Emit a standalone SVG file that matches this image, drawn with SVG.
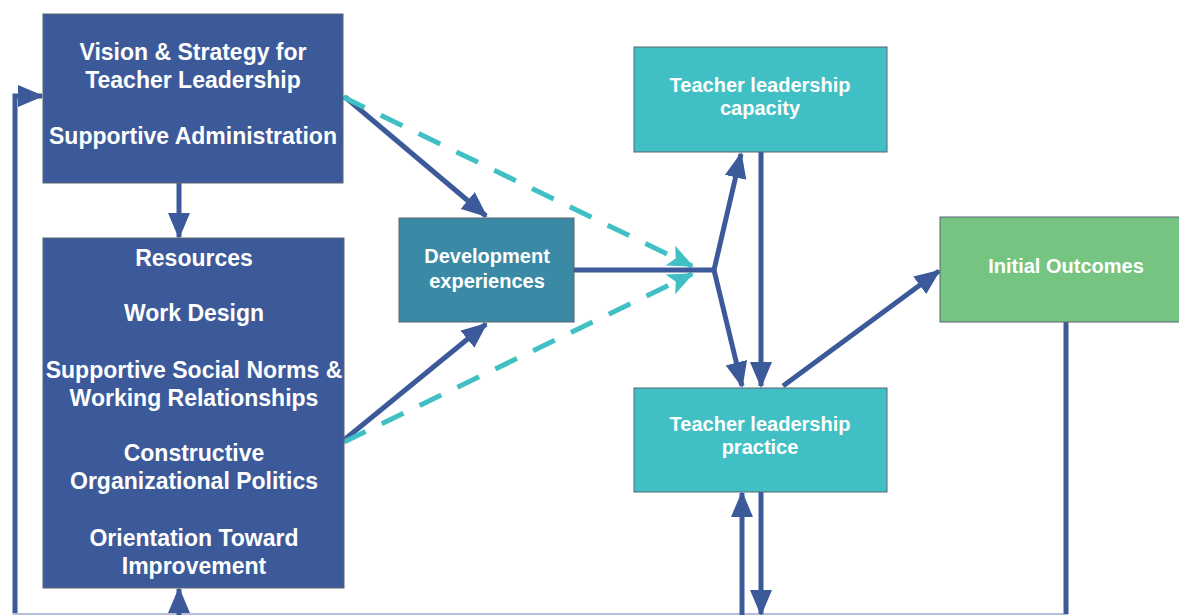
<svg xmlns="http://www.w3.org/2000/svg" width="1179" height="615" viewBox="0 0 1179 615">
<style>
.box{stroke:#5a6470;stroke-width:1}
.dark{fill:#3c5a9a}
.dev{fill:#3a8aa6}
.teal{fill:#40c0c4}
.green{fill:#76c482}
text{font-family:"Liberation Sans",Arial,sans-serif;font-weight:bold;fill:#ffffff;text-anchor:middle}
.big{font-size:23px}
.mid{font-size:20px}
.c{stroke:#3c5a9a;stroke-width:5;fill:none}
.d{stroke:#40c0c4;stroke-width:5;fill:none;stroke-dasharray:24 18}
</style>
<defs>
<marker id="ah" markerUnits="userSpaceOnUse" markerWidth="26" markerHeight="22" refX="24" refY="11" orient="auto">
<path d="M0,0 L26,11 L0,22 z" fill="#3c5a9a"/>
</marker>
<marker id="aht" markerUnits="userSpaceOnUse" markerWidth="26" markerHeight="22" refX="24" refY="11" orient="auto">
<path d="M0,0 L26,11 L0,22 L6,11 z" fill="#40c0c4"/>
</marker>
</defs>
<rect width="1179" height="615" fill="#ffffff"/>
<g id="connectors">
<path class="c" d="M15,614 L15,96 L42,96" marker-end="url(#ah)"/>
<path d="M13,614 L1068,614" stroke="#b4c0da" stroke-width="2" fill="none"/>
<path class="c" d="M179,183 L179,237" marker-end="url(#ah)"/>
<path class="c" d="M179,615 L179,589" marker-end="url(#ah)"/>
<path class="c" d="M345,97 L486,216" marker-end="url(#ah)"/>
<path class="c" d="M344,440 L486,324" marker-end="url(#ah)"/>
<path class="d" d="M343,97 L692,266" marker-end="url(#aht)"/>
<path class="d" d="M344,442 L692,274" marker-end="url(#aht)"/>
<path class="c" d="M574,270 L714,270"/>
<path class="c" d="M714,270 L741,154" marker-end="url(#ah)"/>
<path class="c" d="M714,270 L742,386" marker-end="url(#ah)"/>
<path class="c" d="M761,152 L761,386" marker-end="url(#ah)"/>
<path class="c" d="M783,386 L939,271" marker-end="url(#ah)"/>
<path class="c" d="M1066,322 L1066,614"/>
<path class="c" d="M742,615 L742,493" marker-end="url(#ah)"/>
<path class="c" d="M761,492 L761,614" marker-end="url(#ah)"/>
</g>
<g id="vision">
<rect class="box dark" x="43" y="14" width="300" height="169"/>
<text class="big" x="193" y="60">Vision &amp; Strategy for</text>
<text class="big" x="193" y="88">Teacher Leadership</text>
<text class="big" x="193" y="144">Supportive Administration</text>
</g>
<g id="resources">
<rect class="box dark" x="43" y="238" width="301" height="350"/>
<text class="big" x="194" y="266">Resources</text>
<text class="big" x="194" y="321">Work Design</text>
<text class="big" x="194" y="378">Supportive Social Norms &amp;</text>
<text class="big" x="194" y="406">Working Relationships</text>
<text class="big" x="194" y="461">Constructive</text>
<text class="big" x="194" y="489">Organizational Politics</text>
<text class="big" x="194" y="546">Orientation Toward</text>
<text class="big" x="194" y="574">Improvement</text>
</g>
<g id="development">
<rect class="box dev" x="399" y="218" width="175" height="104"/>
<text class="mid" x="487" y="263">Development</text>
<text class="mid" x="487" y="288">experiences</text>
</g>
<g id="capacity">
<rect class="box teal" x="634" y="47" width="253" height="105"/>
<text class="mid" x="760" y="92">Teacher leadership</text>
<text class="mid" x="760" y="115">capacity</text>
</g>
<g id="practice">
<rect class="box teal" x="634" y="388" width="253" height="104"/>
<text class="mid" x="760" y="431">Teacher leadership</text>
<text class="mid" x="760" y="454">practice</text>
</g>
<g id="outcomes">
<rect class="box green" x="940" y="217" width="245" height="105"/>
<text class="mid" x="1066" y="273">Initial Outcomes</text>
</g>
</svg>
